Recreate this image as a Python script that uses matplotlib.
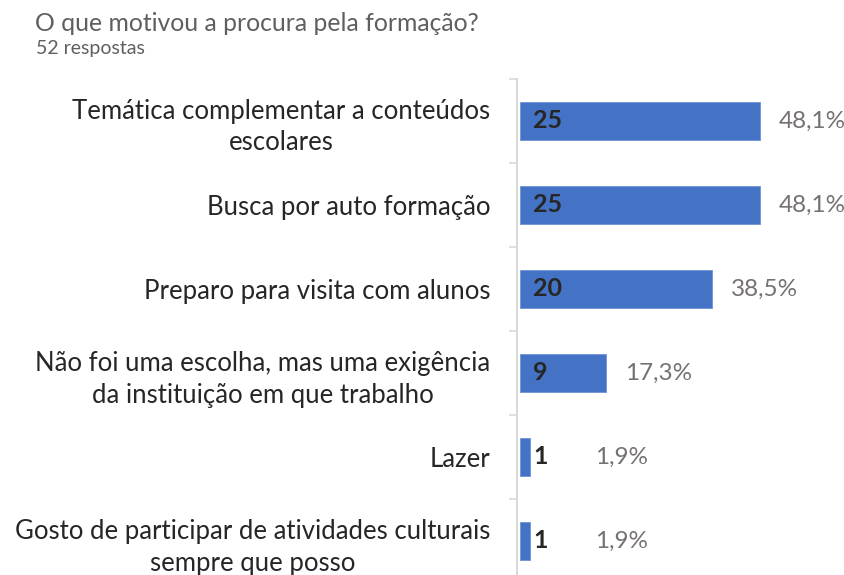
import matplotlib
matplotlib.use("Agg")
import matplotlib.pyplot as plt

# data
categories = [
    "Temática complementar a conteúdos\nescolares",
    "Busca por auto formação",
    "Preparo para visita com alunos",
    "Não foi uma escolha, mas uma exigência\nda instituição em que trabalho",
    "Lazer",
    "Gosto de participar de atividades culturais\nsempre que posso",
]
counts = [25, 25, 20, 9, 1, 1]
percents = ["48,1%", "48,1%", "38,5%", "17,3%", "1,9%", "1,9%"]
title = "O que motivou a procura pela formação?"
subtitle = "52 respostas"

plt.rcParams["font.family"] = ["Lato", "DejaVu Sans"]

W, H = 845, 575
fig = plt.figure(figsize=(W / 100, H / 100), dpi=100)

# axes placed in pixel terms: spine at x=517, rows from y=79 to y=583
ax = fig.add_axes([517 / W, 1 - 583 / H, 328 / W, 504 / H])

ypos = list(range(len(categories)))
ax.barh(ypos, counts, height=0.45, color="#4472C4", edgecolor="#6f93d6", linewidth=0.6)

px_per_unit = 9.6
ax.set_xlim(-3 / px_per_unit, -3 / px_per_unit + 328 / px_per_unit)
ax.set_ylim(len(categories) - 0.5, -0.5)

# count inside the bar, percentage after it
for y, c, p in zip(ypos, counts, percents):
    ax.text(1.4, y, str(c), fontsize=18, fontweight="bold", color="#262626",
            va="center", ha="left")
    ax.text(max(c, 5.9) + 1.95, y, p, fontsize=17.5, color="#767171",
            va="center", ha="left")

ax.set_yticks(ypos)
ax.set_yticklabels(categories, fontsize=18.5, color="#262626")
for lbl in ax.get_yticklabels():
    lbl.set_multialignment("center")
    lbl.set_linespacing(1.35)
ax.tick_params(axis="y", which="major", length=0, pad=19)
ax.set_yticks([i - 0.5 for i in range(len(categories) + 1)], minor=True)
ax.tick_params(axis="y", which="minor", length=5.5, width=1.2, color="#d9d9d9")
ax.set_xticks([])

for s in ["top", "right", "bottom"]:
    ax.spines[s].set_visible(False)
ax.spines["left"].set_color("#d9d9d9")
ax.spines["left"].set_linewidth(1.5)

fig.text(35 / W, 1 - 31 / H, title, fontsize=17.8, color="#5f5f5f", ha="left", va="baseline")
fig.text(36 / W, 1 - 54 / H, subtitle, fontsize=14, color="#5f5f5f", ha="left", va="baseline")

fig.savefig("out.png", dpi=100)
